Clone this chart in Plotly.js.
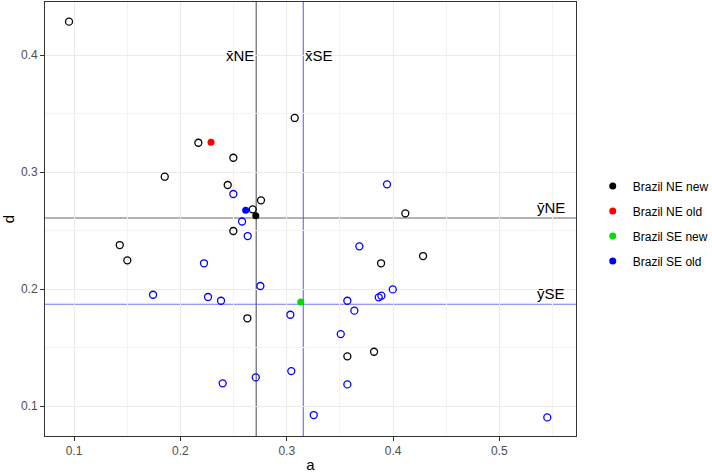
<!DOCTYPE html>
<html>
<head>
<meta charset="utf-8">
<script src="https://cdn.plot.ly/plotly-3.0.1.min.js"></script>
<style>
html,body{margin:0;padding:0;background:#fff;}
#chart{width:712px;height:473px;}
</style>
</head>
<body>
<div id="chart"></div>
<script>
// Individual NE observations (open black circles)
const neA = [0.0953,0.3075,0.2169,0.2498,0.1853,0.2445,0.2758,0.2680,0.4115,0.2498,0.1430,0.1501,0.3887,0.4282,0.2630,0.3570,0.3821];
const neD = [0.4285,0.3462,0.3250,0.3122,0.2960,0.2889,0.2758,0.2681,0.2647,0.2496,0.2376,0.2245,0.2220,0.2282,0.1750,0.1425,0.1464];
// Individual SE observations (open blue circles)
const seA = [0.3943,0.2498,0.2580,0.2633,0.2222,0.2752,0.1743,0.2260,0.2382,0.3034,0.2709,0.3043,0.2398,0.3683,0.3997,0.3865,0.3890,0.3570,0.3636,0.3508,0.3570,0.3254,0.5450];
const seD = [0.2895,0.2812,0.2577,0.2453,0.2220,0.2026,0.1951,0.1932,0.1900,0.1780,0.1245,0.1299,0.1194,0.2365,0.1997,0.1929,0.1943,0.1900,0.1815,0.1615,0.1185,0.0923,0.0903];
// Group points (filled, in legend)
const groupNames = ["Brazil NE new","Brazil NE old","Brazil SE new","Brazil SE old"];
const groupA = [0.2709,0.2288,0.3132,0.2614];
const groupD = [0.2627,0.3254,0.1889,0.2673];
const groupColors = ["#000000","#ff0000","#00dd00","#0000ff"];
// Mean lines
const meanLabels = ["NE","SE"];
const meanA = [0.2713,0.3156];
const meanD = [0.2607,0.1870];
const meanColors = ["#666666","rgba(70,70,245,0.75)"];
// Axis ticks
const xTicks = [0.1,0.2,0.3,0.4,0.5];
const yTicks = [0.1,0.2,0.3,0.4];

const FONT = "Liberation Sans, Arial, sans-serif";

const traces = [
  {x: neA, y: neD, type:"scatter", mode:"markers", showlegend:false, hoverinfo:"x+y",
   marker:{symbol:"circle-open", size:7, color:"#000000", line:{width:1.3}}},
  {x: seA, y: seD, type:"scatter", mode:"markers", showlegend:false, hoverinfo:"x+y",
   marker:{symbol:"circle-open", size:7, color:"#0000ff", line:{width:1.3}}}
];
groupNames.forEach((n,i)=>{
  traces.push({x:[groupA[i]], y:[groupD[i]], name:n, legendgroup:n, type:"scatter", mode:"markers",
    marker:{symbol:"circle", size:7, color:groupColors[i]}});
});

const shapes = [];
const annotations = [];
meanLabels.forEach((lab,i)=>{
  shapes.push({type:"line", xref:"x", yref:"paper", x0:meanA[i], x1:meanA[i], y0:0, y1:1,
    line:{color:meanColors[i], width:1.2}, layer:"between"});
  shapes.push({type:"line", xref:"paper", yref:"y", x0:0, x1:1, y0:meanD[i], y1:meanD[i],
    line:{color:meanColors[i], width:1.2}, layer:"between"});
  annotations.push({x:meanA[i], y:0.4, xref:"x", yref:"y", text:"x\u0304"+lab, showarrow:false,
    xanchor: i===0 ? "right" : "left", yanchor:"middle", font:{family:FONT, size:15, color:"#000"}});
  annotations.push({x:0.5635, y:meanD[i], xref:"x", yref:"y", text:"y\u0304"+lab, showarrow:false,
    xanchor:"right", yanchor:"bottom", font:{family:FONT, size:15, color:"#000"}});
});

const axisCommon = {
  showline:true, mirror:true, linecolor:"#333333", linewidth:1,
  ticks:"outside", ticklen:4, tickwidth:1, tickcolor:"#333333",
  showgrid:true, gridcolor:"#ebebeb", gridwidth:1, zeroline:false,
  tickfont:{family:FONT, size:12, color:"#4d4d4d"}
};

const layout = {
  width:712, height:473,
  margin:{l:45, r:136, t:2, b:37, autoexpand:false},
  paper_bgcolor:"#ffffff", plot_bgcolor:"#ffffff",
  font:{family:FONT},
  xaxis: Object.assign({}, axisCommon, {
    range:[0.0727,0.572], tickvals:xTicks, ticktext:xTicks.map(v=>v.toFixed(1)),
    minor:{dtick:0.05, tick0:0, showgrid:true, gridcolor:"#f3f3f3", gridwidth:1, ticks:""},
    title:{text:"a", font:{family:FONT, size:15, color:"#000"}, standoff:5}
  }),
  yaxis: Object.assign({}, axisCommon, {
    range:[0.0744,0.4453], tickvals:yTicks, ticktext:yTicks.map(v=>v.toFixed(1)),
    minor:{dtick:0.05, tick0:0, showgrid:true, gridcolor:"#f3f3f3", gridwidth:1, ticks:""},
    title:{text:"d", font:{family:FONT, size:15, color:"#000"}, standoff:8}
  }),
  legend:{xref:"container", yref:"container", x:0.8325, xanchor:"left", y:0.5275, yanchor:"middle",
    font:{family:FONT, size:12, color:"#000"}, tracegroupgap:6, bgcolor:"rgba(0,0,0,0)"},
  shapes: shapes,
  annotations: annotations
};

Plotly.newPlot("chart", traces, layout, {displayModeBar:false, staticPlot:true});
</script>
</body>
</html>
